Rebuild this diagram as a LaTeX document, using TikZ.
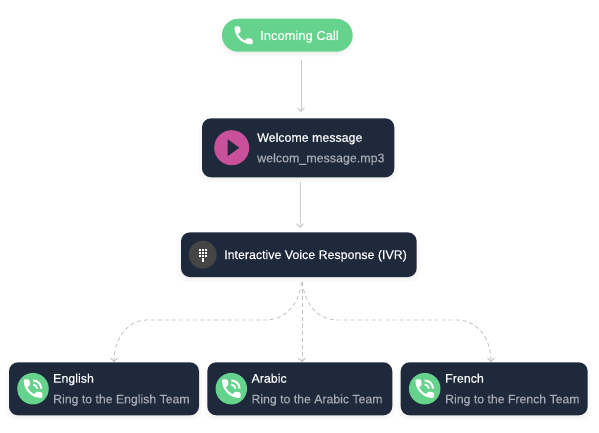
\documentclass[tikz,border=0pt]{standalone}
\usepackage{fontspec}
\setmainfont{Liberation Sans}
\newfontfamily\medfont[FakeBold=0.22]{Liberation Sans}
\newfontfamily\regfont[FakeBold=0.06]{Liberation Sans}
\usetikzlibrary{arrows.meta,shadows}
\definecolor{navy}{HTML}{1F293C}
\definecolor{mint}{HTML}{66D38C}
\definecolor{pinkish}{HTML}{C9509A}
\definecolor{keygrey}{HTML}{454545}
\definecolor{subtext}{HTML}{A7ABB4}
\definecolor{wire}{HTML}{CACBD0}
\definecolor{dashwire}{HTML}{BFC0C6}
\tikzset{
  softshadow/.style={
    general shadow={fill=black,opacity=.025,shadow yshift=-4pt,shadow scale=1.03},
    general shadow={fill=black,opacity=.03,shadow yshift=-2pt}},
  box/.style={fill=navy,rounded corners=9pt,inner sep=0pt,softshadow},
  pill/.style={fill=mint,rounded corners=16.5pt,inner sep=0pt,softshadow},
  dot/.style={circle,inner sep=0pt,minimum size=#1},
  title/.style={anchor=base west,inner sep=0pt,text=white,font=\medfont\fontsize{12.4}{14}\selectfont},
  sub/.style={anchor=base west,inner sep=0pt,text=subtext,font=\regfont\fontsize{12.45}{14}\selectfont},
  ring/.style={sub,font=\regfont\fontsize{12.27}{14}\selectfont},
  flow/.style={draw=wire,line width=1pt,-{Straight Barb[length=3.5pt,width=7pt]}},
  branch/.style={flow,draw=dashwire,dashed,dash pattern=on 4pt off 3pt,line width=.8pt},
  handset/.pic={
    \begin{scope}[shift={(-12,-12)}]
    \fill[white] (6.62,10.79) .. controls (8.06,13.62) and (10.38,15.93) .. (13.21,17.38) -- (15.41,15.18)
      .. controls (15.68,14.91) and (16.08,14.82) .. (16.43,14.94)
      .. controls (17.55,15.31) and (18.76,15.51) .. (20,15.51)
      .. controls (20.55,15.51) and (21,15.96) .. (21,16.51) -- (21,20)
      .. controls (21,20.55) and (20.55,21) .. (20,21)
      .. controls (10.61,21) and (3,13.39) .. (3,4)
      .. controls (3,3.45) and (3.45,3) .. (4,3) -- (7.5,3)
      .. controls (8.05,3) and (8.5,3.45) .. (8.5,4)
      .. controls (8.5,5.25) and (8.7,6.45) .. (9.07,7.57)
      .. controls (9.18,7.92) and (9.1,8.31) .. (8.82,8.59) -- cycle;
    \end{scope}},
  waves/.pic={
    \begin{scope}[shift={(-12,-12)}]
    \fill[white] (19,12) -- (21,12) .. controls (21,7.03) and (16.97,3) .. (12,3) -- (12,5)
      .. controls (15.87,5) and (19,8.13) .. (19,12) -- cycle;
    \fill[white] (15,12) -- (17,12) .. controls (17,9.24) and (14.76,7) .. (12,7) -- (12,9)
      .. controls (13.66,9) and (15,10.34) .. (15,12) -- cycle;
    \end{scope}}
}
\begin{document}
\begin{tikzpicture}[x=1pt,y=-1pt]
\useasboundingbox (0,0) rectangle (599,433);
% nodes
\node[pill,minimum width=130.7pt,minimum height=33pt] (incoming) at (287.3,35.2) {};
\node[box,minimum width=192.3pt,minimum height=59pt] (welcome) at (298.15,147.8) {};
\node[box,minimum width=235.7pt,minimum height=44.7pt] (ivr) at (298.85,254.7) {};
\node[box,minimum width=190pt,minimum height=53pt] (english) at (104,388.8) {};
\node[box,minimum width=185pt,minimum height=53pt] (arabic) at (299.8,388.8) {};
\node[box,minimum width=187pt,minimum height=53pt] (french) at (494.2,388.8) {};
% icons
\pic at (243.5,35.3) {handset};
\node[dot=35pt,fill=pinkish] (playdot) at (231.7,147.7) {};
\fill[navy] (227.7,139.3) -- (239.2,147.7) -- (227.7,156.1) -- cycle;
\node[dot=28pt,fill=keygrey] (keydot) at (202.7,254.7) {};
\foreach \cx in {-3,0,3}\foreach \cy in {-5,-2,1}
  \fill[white] (202.7+\cx-.9,254.7+\cy-.9) rectangle ++(1.8,1.8);
\fill[white] (201.8,258) rectangle ++(1.8,1.8);
\fill[white] (201.8,260.3) rectangle ++(1.8,1.8);
\foreach \name/\cx in {englishdot/33,arabicdot/231.3,frenchdot/424.7}{
  \node[dot=31.5pt,fill=mint] (\name) at (\cx,388.7) {};
  \pic[scale=1.03] at (\cx,388.7) {handset};
  \pic[scale=1.03] at (\cx,388.7) {waves};
}
% text
\node[title,font=\regfont\fontsize{12.95}{14}\selectfont] (t1) at (260,40) {Incoming Call};
\node[title] (t2) at (257,141.8) {Welcome message};
\node[sub] (t3) at (257,162.3) {welcom\_message.mp3};
\node[title,font=\regfont\fontsize{12.4}{14}\selectfont,text=white] (t4) at (224,259) {Interactive Voice Response (IVR)};
\node[title] (t5) at (53,382.7) {English};
\node[ring] (t6) at (53,403.3) {Ring to the English Team};
\node[title] (t7) at (251.3,382.7) {Arabic};
\node[ring] (t8) at (251.3,403.3) {Ring to the Arabic Team};
\node[title] (t9) at (445,382.7) {French};
\node[ring] (t10) at (445,403.3) {Ring to the French Team};
% connectors
\draw[flow,shorten >=6pt,shorten <=8.5pt] ([xshift=13.7pt]incoming.south) -- ([xshift=2.85pt]welcome.north);
\draw[flow,shorten >=4.3pt,shorten <=4pt] ([xshift=1.85pt]welcome.south) -- ([xshift=1.15pt]ivr.north);
\draw[branch,shorten <=5pt] ([xshift=3pt]ivr.south) .. controls (299,305) and (285,320) .. (265,320)
  -- (147,320) .. controls (128,320) and (114,338) .. ([xshift=10pt]english.north);
\draw[branch,shorten <=5pt] ([xshift=3.15pt]ivr.south) -- ([xshift=2.2pt]arabic.north);
\draw[branch,shorten <=5pt] ([xshift=3pt]ivr.south) .. controls (305,305) and (318,320) .. (338,320)
  -- (457,320) .. controls (477,320) and (491,338) .. ([xshift=-3.2pt]french.north);
\end{tikzpicture}
\end{document}
